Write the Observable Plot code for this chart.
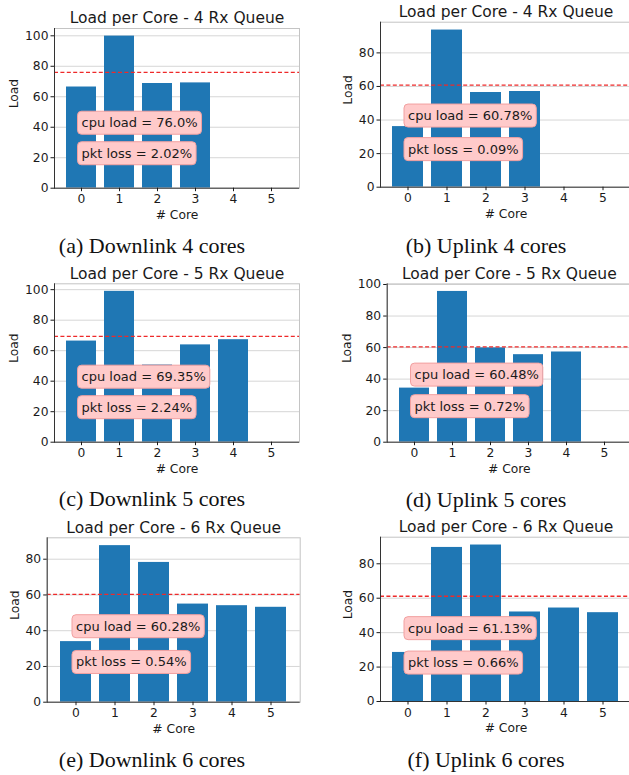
<!DOCTYPE html>
<html><head><meta charset="utf-8">
<script src="https://cdn.jsdelivr.net/npm/d3@7"></script>
<script src="https://cdn.jsdelivr.net/npm/@observablehq/plot@0.6"></script>
<style>
html,body{margin:0;padding:0;background:#fff;}
#fig{position:relative;width:629px;height:775px;overflow:hidden;background:#fff;}
#fig svg{position:absolute;}
.caption{position:absolute;width:320px;text-align:center;font-family:"Liberation Serif","DejaVu Serif",serif;font-size:22px;line-height:22px;color:#111;white-space:nowrap;}
</style></head><body><div id="fig"></div>
<script>
// ---- data ----
const cores = [0, 1, 2, 3, 4, 5];
const titles = [
  "Load per Core - 4 Rx Queue", "Load per Core - 4 Rx Queue",
  "Load per Core - 5 Rx Queue", "Load per Core - 5 Rx Queue",
  "Load per Core - 6 Rx Queue", "Load per Core - 6 Rx Queue"
];
const captions = [
  "(a) Downlink 4 cores", "(b) Uplink 4 cores",
  "(c) Downlink 5 cores", "(d) Uplink 5 cores",
  "(e) Downlink 6 cores", "(f) Uplink 6 cores"
];
const loadDown4 = [66.4, 99.8, 68.7, 69.1, 0, 0];
const loadUp4   = [36.1, 93.6, 56.4, 57.0, 0, 0];
const loadDown5 = [66.3, 98.9, 50.6, 63.8, 67.2, 0];
const loadUp5   = [34.3, 95.6, 59.8, 55.5, 57.2, 0];
const loadDown6 = [33.9, 87.6, 78.2, 54.9, 54.0, 53.1];
const loadUp6   = [28.5, 89.5, 90.9, 52.0, 54.3, 51.6];
const loads = [loadDown4, loadUp4, loadDown5, loadUp5, loadDown6, loadUp6];
const cpuLoad = [76.0, 60.78, 69.35, 60.48, 60.28, 61.13];
const cpuText = ["76.0", "60.78", "69.35", "60.48", "60.28", "61.13"];
const pktText = ["2.02", "0.09", "2.24", "0.72", "0.54", "0.66"];
const annotX = 0;
const annotY = [40, 20];
const yTickValues = [0, 20, 40, 60, 80, 100];
const xLabel = "# Core";
const yLabel = "Load";

// ---- layout (absolute page pixels) ----
const layout = [
  {ox: 0,   oy: 0,   L: 54,    R: 299,   T: 28,    B: 187.7, capTop: 235,   capC: 152},
  {ox: 320, oy: 0,   L: 380,   R: 631,   T: 21.7,  B: 186.7, capTop: 235,   capC: 486},
  {ox: 0,   oy: 258, L: 54,    R: 299,   T: 283.3, B: 441.7, capTop: 487.6, capC: 152},
  {ox: 320, oy: 258, L: 386.7, R: 631,   T: 283.4, B: 441.7, capTop: 489,   capC: 486},
  {ox: 0,   oy: 513, L: 46.7,  R: 299.7, T: 537.3, B: 701.7, capTop: 749.3, capC: 152},
  {ox: 320, oy: 513, L: 380,   R: 631,   T: 536.7, B: 701,   capTop: 749.3, capC: 486}
];

const fig = document.getElementById("fig");

loads.forEach((vals, i) => {
  const lay = layout[i];
  const data = cores.map((c, j) => ({core: c, load: vals[j]}));
  const ymax = d3.max(vals) * 1.05;
  const ticks = yTickValues.filter(t => t <= ymax + 0.5);
  const maxLen = d3.max(ticks, t => String(t).length);
  const annots = [
    {x: annotX, y: annotY[0], text: `cpu load = ${cpuText[i]}%`},
    {x: annotX, y: annotY[1], text: `pkt loss = ${pktText[i]}%`}
  ];
  const width = lay.ox === 0 ? 314 : 312;
  const height = 230;
  const chart = Plot.plot({
    width, height,
    marginLeft: lay.L - lay.ox,
    marginRight: width - (lay.R - lay.ox),
    marginTop: lay.T - lay.oy,
    marginBottom: height - (lay.B - lay.oy),
    style: {fontFamily: "'DejaVu Sans', sans-serif", fontSize: "12.3px", color: "#1a1a1a", background: "transparent", overflow: "visible"},
    x: {type: "band", domain: cores, paddingInner: 0.2, paddingOuter: 0.29, align: 0.5},
    y: {domain: [0, ymax]},
    marks: [
      Plot.ruleY(ticks.filter(t => t > 0), {stroke: "#d6d6d6", strokeWidth: 1}),
      Plot.barY(data, {x: "core", y: "load", fill: "#1f77b4"}),
      Plot.ruleY([cpuLoad[i]], {stroke: "#ee2a2a", strokeWidth: 1.3, strokeDasharray: "4,2.4"}),
      Plot.frame({stroke: "#c4c4c4"}),
      Plot.ruleY([0], {stroke: "#333"}),
      Plot.frame({anchor: "left", stroke: "#333"}),
      Plot.axisY({ticks, tickSize: 3.5, tickPadding: 2.5, label: null}),
      Plot.axisX({tickSize: 3.5, tickPadding: 3, label: null}),
      Plot.text(annots, {x: "x", y: "y", text: "text", textAnchor: "start", lineAnchor: "bottom", fontSize: 13, fill: "#1a1a1a"}),
      Plot.text([titles[i]], {text: d => d, frameAnchor: "top", dy: -10, lineAnchor: "middle", fontSize: 15.5, fill: "#1a1a1a"}),
      Plot.text([xLabel], {text: d => d, frameAnchor: "bottom", dy: 27, lineAnchor: "middle", fill: "#1a1a1a"}),
      Plot.text([yLabel], {text: d => d, frameAnchor: "left", rotate: -90, dx: -(maxLen * 7.8 + 17), lineAnchor: "middle", fill: "#1a1a1a"})
    ]
  });
  chart.style.left = lay.ox + "px";
  chart.style.top = lay.oy + "px";
  fig.appendChild(chart);

  // boxes behind the annotation texts
  chart.querySelectorAll("text").forEach(t => {
    if (/^(cpu load|pkt loss)/.test(t.textContent)) {
      const bb = t.getBBox();
      const pad = 4;
      const r = document.createElementNS("http://www.w3.org/2000/svg", "rect");
      r.setAttribute("x", bb.x - pad);
      r.setAttribute("y", bb.y - pad);
      r.setAttribute("width", bb.width + 2 * pad);
      r.setAttribute("height", bb.height + 2 * pad);
      r.setAttribute("rx", 4);
      r.setAttribute("fill", "#ffcaca");
      r.setAttribute("stroke", "#f2a0a0");
      r.setAttribute("stroke-width", 1);
      const tr = t.getAttribute("transform");
      if (tr) r.setAttribute("transform", tr);
      t.parentNode.insertBefore(r, t);
    }
  });

  const cap = document.createElement("div");
  cap.className = "caption";
  cap.textContent = captions[i];
  cap.style.left = (lay.capC - 160) + "px";
  cap.style.top = lay.capTop + "px";
  fig.appendChild(cap);
});
</script>
</body></html>
